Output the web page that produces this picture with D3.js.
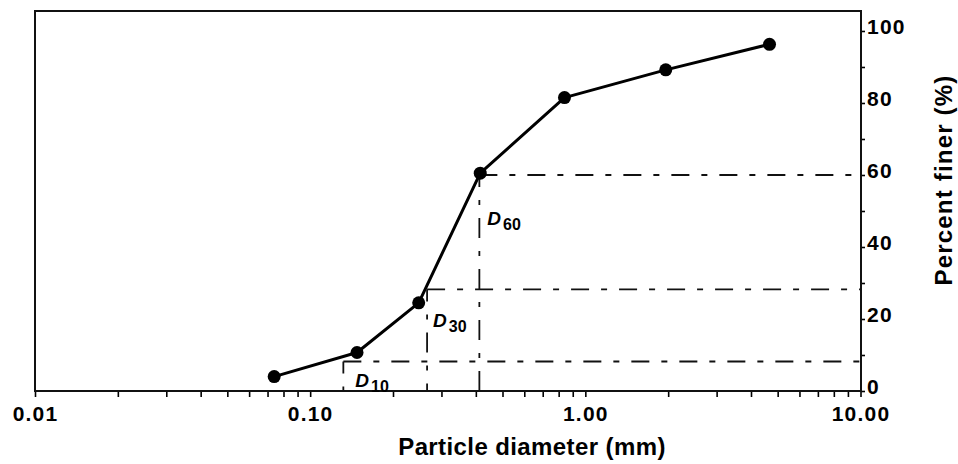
<!DOCTYPE html>
<html>
<head>
<meta charset="utf-8">
<script src="https://cdn.jsdelivr.net/npm/d3@7"></script>
<style>
  body { margin: 0; background: #fff; }
  svg text { font-family: "Liberation Sans", Arial, sans-serif; font-weight: bold; fill: #000; }
</style>
</head>
<body>
<svg id="chart" width="958" height="464"></svg>
<script>
// sieve data
const diameters = [0.074, 0.148, 0.248, 0.415, 0.84, 1.96, 4.67];
const percentFiner = [4.0, 10.7, 24.5, 60.5, 81.5, 89.2, 96.3];

// characteristic diameters D10, D30, D60
const dNames = ['10', '30', '60'];
const dValues = [0.132, 0.266, 0.412];
const dPercents = [8.2, 28.2, 60];

const xTickLabels = ['0.01', '0.10', '1.00', '10.00'];
const yTickLabels = ['0', '20', '40', '60', '80', '100'];

const xLabel = 'Particle diameter (mm)';
const yLabel = 'Percent finer (%)';

const svg = d3.select('#chart');
const plot = { left: 35, right: 861, top: 11, bottom: 391 };

const x = d3.scaleLog().domain([0.01, 10]).range([plot.left, plot.right - 0.5]);
const y = d3.scaleLinear().domain([0, 105.55]).range([plot.bottom, plot.top]);

// bottom axis: decade labels, minor ticks 2..9
const xTicks = [];
[0.01, 0.1, 1].forEach(dec => {
    for (let k = 1; k < 10; k++) xTicks.push(+(dec * k).toPrecision(3));
});
xTicks.push(10);
const decadeLabel = new Map([0.01, 0.1, 1, 10].map((v, i) => [v, xTickLabels[i]]));

const xAxis = d3.axisBottom(x)
    .tickValues(xTicks)
    .tickSize(6)
    .tickPadding(9)
    .tickFormat(d => decadeLabel.get(d) || '');

svg.append('g')
    .attr('transform', `translate(0,${plot.bottom})`)
    .call(xAxis)
    .call(g => g.select('.domain').remove())
    .call(g => g.selectAll('line').attr('stroke', '#000').attr('stroke-width', 1.6))
    .call(g => g.selectAll('text')
        .style('font-size', '21px').style('letter-spacing', '1.2px')
        .attr('font-family', null).attr('font-size', null));

// right axis: ticks every 10, labels every 20
const yTicks = d3.range(0, 101, 10);
const yAxis = d3.axisRight(y)
    .tickValues(yTicks)
    .tickSize(4)
    .tickPadding(2)
    .tickFormat(d => yTickLabels.includes(String(d)) ? String(d) : '');

svg.append('g')
    .attr('transform', `translate(${plot.right},0)`)
    .call(yAxis)
    .call(g => g.select('.domain').remove())
    .call(g => g.selectAll('line').attr('stroke', '#000').attr('stroke-width', 1.6))
    .call(g => g.selectAll('text')
        .attr('dy', '0.13em')
        .style('font-size', '21px').style('letter-spacing', '1.2px')
        .attr('font-family', null).attr('font-size', null));

// frame
svg.append('rect')
    .attr('x', plot.left).attr('y', plot.top)
    .attr('width', plot.right - plot.left).attr('height', plot.bottom - plot.top)
    .attr('fill', 'none')
    .attr('stroke', '#111')
    .attr('stroke-width', 2);

// dash-dot guide lines
const guides = svg.append('g')
    .attr('stroke', '#111')
    .attr('stroke-width', 1.8)
    .attr('fill', 'none');

dValues.forEach((d, i) => {
    guides.append('line')
        .attr('x1', x(d)).attr('x2', plot.right)
        .attr('y1', y(dPercents[i])).attr('y2', y(dPercents[i]))
        .attr('stroke-dasharray', '18,12,6,12');
    guides.append('line')
        .attr('x1', x(d)).attr('x2', x(d))
        .attr('y1', y(dPercents[i])).attr('y2', plot.bottom)
        .attr('stroke-dasharray', '20,13,5,13')
        .attr('stroke-dashoffset', 8);
});

// grading curve
const points = diameters.map((d, i) => [d, percentFiner[i]]);

svg.append('path')
    .datum(points)
    .attr('fill', 'none')
    .attr('stroke', '#000')
    .attr('stroke-width', 3)
    .attr('stroke-linejoin', 'round')
    .attr('d', d3.line().x(p => x(p[0])).y(p => y(p[1])));

svg.append('g')
    .selectAll('circle')
    .data(points)
    .join('circle')
    .attr('cx', p => x(p[0]))
    .attr('cy', p => y(p[1]))
    .attr('r', 6.5)
    .attr('fill', '#000');

// D labels, offset from the guide corner
const labelOffsets = [[12, 26], [6, 38], [8, 50]];
dNames.forEach((name, i) => {
    const t = svg.append('text')
        .attr('x', x(dValues[i]) + labelOffsets[i][0])
        .attr('y', y(dPercents[i]) + labelOffsets[i][1])
        .style('font-size', '19px');
    t.append('tspan').style('font-style', 'italic').text('D');
    t.append('tspan').attr('dy', 5).attr('dx', 2).style('font-size', '16px').text(name);
});

// axis titles
svg.append('text')
    .attr('x', 532)
    .attr('y', 455)
    .attr('text-anchor', 'middle')
    .style('font-size', '24px')
    .style('letter-spacing', '0.4px')
    .text(xLabel);

svg.append('text')
    .attr('transform', 'translate(952,180) rotate(-90)')
    .attr('text-anchor', 'middle')
    .style('font-size', '24px')
    .style('letter-spacing', '1.2px')
    .text(yLabel);
</script>
</body>
</html>
